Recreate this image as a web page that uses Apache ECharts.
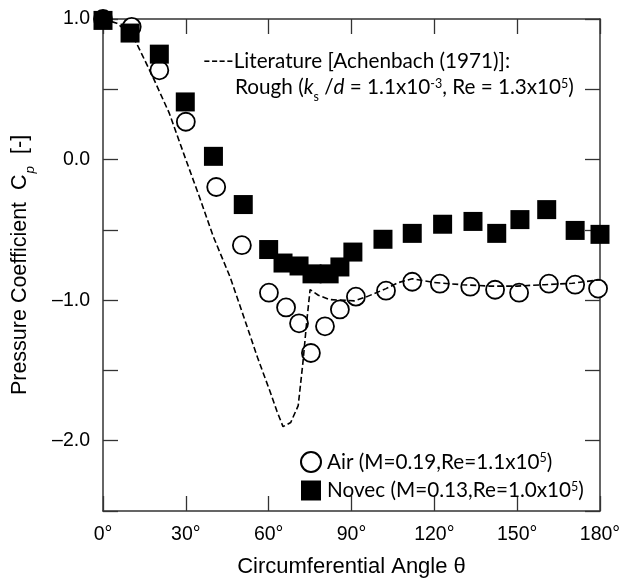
<!DOCTYPE html>
<html>
<head>
<meta charset="utf-8">
<script src="https://cdn.jsdelivr.net/npm/echarts@6/dist/echarts.min.js"></script>
<style>
  html, body { margin: 0; padding: 0; background: #fff; }
  #chart { width: 627px; height: 583px; }
</style>
</head>
<body>
<div id="chart"></div>
<script>
// Pressure coefficient around a circular cylinder vs circumferential angle

// Air measurements (angle in degrees, Cp)
const airAngle = [0, 10.4, 20.4, 30, 41, 50.3, 60.1, 66.3, 71, 75.3, 80.4, 85.8, 91.6, 102.5, 112, 122, 133, 142, 150.7, 161.5, 171, 179.3];
const airCp    = [1.0, 0.944, 0.635, 0.269, -0.195, -0.609, -0.947, -1.052, -1.165, -1.376, -1.186, -1.066, -0.975, -0.933, -0.869, -0.883, -0.904, -0.926, -0.947, -0.883, -0.89, -0.918];

// Novec measurements
const novecAngle = [0, 9.8, 20.4, 29.8, 40, 50.8, 60, 65.2, 71, 75.7, 81.9, 85.8, 90.5, 101.4, 112, 123, 134, 142.6, 151, 160.7, 171, 180];
const novecCp    = [0.99, 0.90, 0.75, 0.41, 0.023, -0.32, -0.64, -0.736, -0.757, -0.813, -0.813, -0.764, -0.658, -0.567, -0.525, -0.46, -0.44, -0.525, -0.427, -0.356, -0.504, -0.532];

// Achenbach (1971), rough cylinder, ks/d = 1.1e-3, Re = 1.3e5
const litAngle = [0, 5, 11, 18, 24, 30, 35, 40, 46, 51, 56, 60.5, 63, 65.2, 68, 70.7, 72.4, 73.8, 75, 78, 82, 86, 91, 95.6, 102.5, 107, 112, 120, 130, 140, 150, 160, 170, 180];
const litCp    = [1.0, 0.97, 0.874, 0.59, 0.33, 0.0, -0.27, -0.55, -0.834, -1.12, -1.41, -1.65, -1.79, -1.90, -1.87, -1.75, -1.445, -1.15, -0.925, -0.965, -0.996, -1.0, -1.005, -0.975, -0.918, -0.875, -0.848, -0.875, -0.89, -0.9, -0.9, -0.89, -0.88, -0.855];

// Axis tick values
const xTicks = [0, 30, 60, 90, 120, 150, 180];
const yLabels = { '1': '1.0', '0': '0.0', '-1': '\u20131.0', '-2': '\u20132.0' };

const AIR_NAME = 'Air';
const NOVEC_NAME = 'Novec';

const zip = (a, b) => a.map((v, i) => [v, b[i]]);

const axisColor = '#333';
const sansFont = '"Liberation Sans", Arial, sans-serif';
const noteFont = 'Lato, "Open Sans", sans-serif';
const noteSize = 20.7;

const chart = echarts.init(document.getElementById('chart'), null, { renderer: 'canvas' });

const tickCommon = { show: true, inside: true, length: 15, lineStyle: { color: axisColor, width: 1.3 } };
const lineCommon = { show: true, onZero: false, lineStyle: { color: axisColor, width: 1.5 } };

chart.setOption({
  animation: false,
  backgroundColor: '#fff',
  grid: { left: 103, right: 27, top: 19, bottom: 66, containLabel: false },
  xAxis: [
    {
      type: 'value', min: 0, max: 180, interval: 30,
      axisLine: lineCommon,
      axisTick: tickCommon,
      splitLine: { show: false },
      axisLabel: {
        margin: 14, color: '#000', fontFamily: sansFont, fontSize: 19.5,
        formatter: v => (xTicks.includes(v) ? v + '\u00b0' : '')
      },
      name: 'Circumferential Angle \u03b8',
      nameLocation: 'middle', nameGap: 45,
      nameTextStyle: { color: '#000', fontFamily: sansFont, fontSize: 22 }
    },
    {
      type: 'value', position: 'top', min: 0, max: 180, interval: 30,
      axisLine: lineCommon,
      axisTick: tickCommon, axisLabel: { show: false }, splitLine: { show: false }
    }
  ],
  yAxis: [
    {
      type: 'value', min: -2.5, max: 1.0, interval: 0.5,
      axisLine: lineCommon,
      axisTick: tickCommon,
      splitLine: { show: false },
      axisLabel: {
        margin: 13, color: '#000', fontFamily: sansFont, fontSize: 19.5,
        formatter: v => (yLabels[String(v)] !== undefined ? yLabels[String(v)] : '')
      },
      name: '{t|Pressure Coefficient  C}{s|p}{t|  [-]}',
      nameLocation: 'middle', nameGap: 72, nameRotate: 90,
      nameTextStyle: {
        color: '#000', fontFamily: sansFont, fontSize: 21.5,
        rich: {
          t: { fontFamily: sansFont, fontSize: 21.5, color: '#000' },
          s: { fontFamily: sansFont, fontSize: 13.5, fontStyle: 'italic', color: '#000', verticalAlign: 'bottom', padding: [0, 0, -6, 1] }
        }
      }
    },
    {
      type: 'value', position: 'right', min: -2.5, max: 1.0, interval: 0.5,
      axisLine: lineCommon,
      axisTick: tickCommon, axisLabel: { show: false }, splitLine: { show: false }
    }
  ],
  legend: {
    left: 295, top: 446, orient: 'vertical', itemGap: 7,
    itemWidth: 20, itemHeight: 20,
    data: [AIR_NAME, NOVEC_NAME],
    formatter: name => name === AIR_NAME
      ? '{n|Air (M=0.19,Re=1.1x10}{p|5}{n|)}'
      : '{n|Novec (M=0.13,Re=1.0x10}{p|5}{n|)}',
    textStyle: {
      color: '#000', fontFamily: noteFont, fontSize: noteSize, padding: [0, 0, 0, 1],
      rich: {
        n: { fontFamily: noteFont, fontSize: noteSize, color: '#000' },
        p: { fontFamily: noteFont, fontSize: 12.5, color: '#000', verticalAlign: 'top', padding: [0, 0, 7, 0] }
      }
    }
  },
  graphic: [
    {
      type: 'text', left: 203, top: 51, silent: true,
      style: {
        text: '----Literature [Achenbach (1971)]:',
        font: noteSize + 'px ' + noteFont, fill: '#000'
      }
    },
    {
      type: 'text', left: 235, top: 77, silent: true,
      style: {
        text: '{n|Rough (}{i|k}{s|s}{n| /}{i|d}{n| = 1.1x10}{p|-3}{n|, Re = 1.3x10}{p|5}{n|)}',
        font: noteSize + 'px ' + noteFont, fill: '#000',
        rich: {
          n: { font: noteSize + 'px ' + noteFont, fill: '#000' },
          i: { font: 'italic ' + noteSize + 'px ' + noteFont, fill: '#000' },
          s: { font: '12.5px ' + noteFont, fill: '#000', verticalAlign: 'bottom', padding: [0, 0, -5, 0] },
          p: { font: '12.5px ' + noteFont, fill: '#000', verticalAlign: 'top', padding: [0, 0, 7, 0] }
        }
      }
    }
  ],
  series: [
    {
      name: AIR_NAME, type: 'scatter', symbol: 'circle', symbolSize: 18,
      data: zip(airAngle, airCp),
      itemStyle: { color: '#fff', borderColor: '#000', borderWidth: 1.8, opacity: 1 },
      z: 2
    },
    {
      name: NOVEC_NAME, type: 'scatter', symbol: 'rect', symbolSize: 19,
      data: zip(novecAngle, novecCp),
      itemStyle: { color: '#000', opacity: 1 },
      z: 3
    },
    {
      name: 'Achenbach', type: 'line', symbol: 'none', smooth: false,
      data: zip(litAngle, litCp),
      lineStyle: { color: '#000', width: 1.6, type: [6, 3] },
      z: 4
    }
  ]
});
</script>
</body>
</html>
